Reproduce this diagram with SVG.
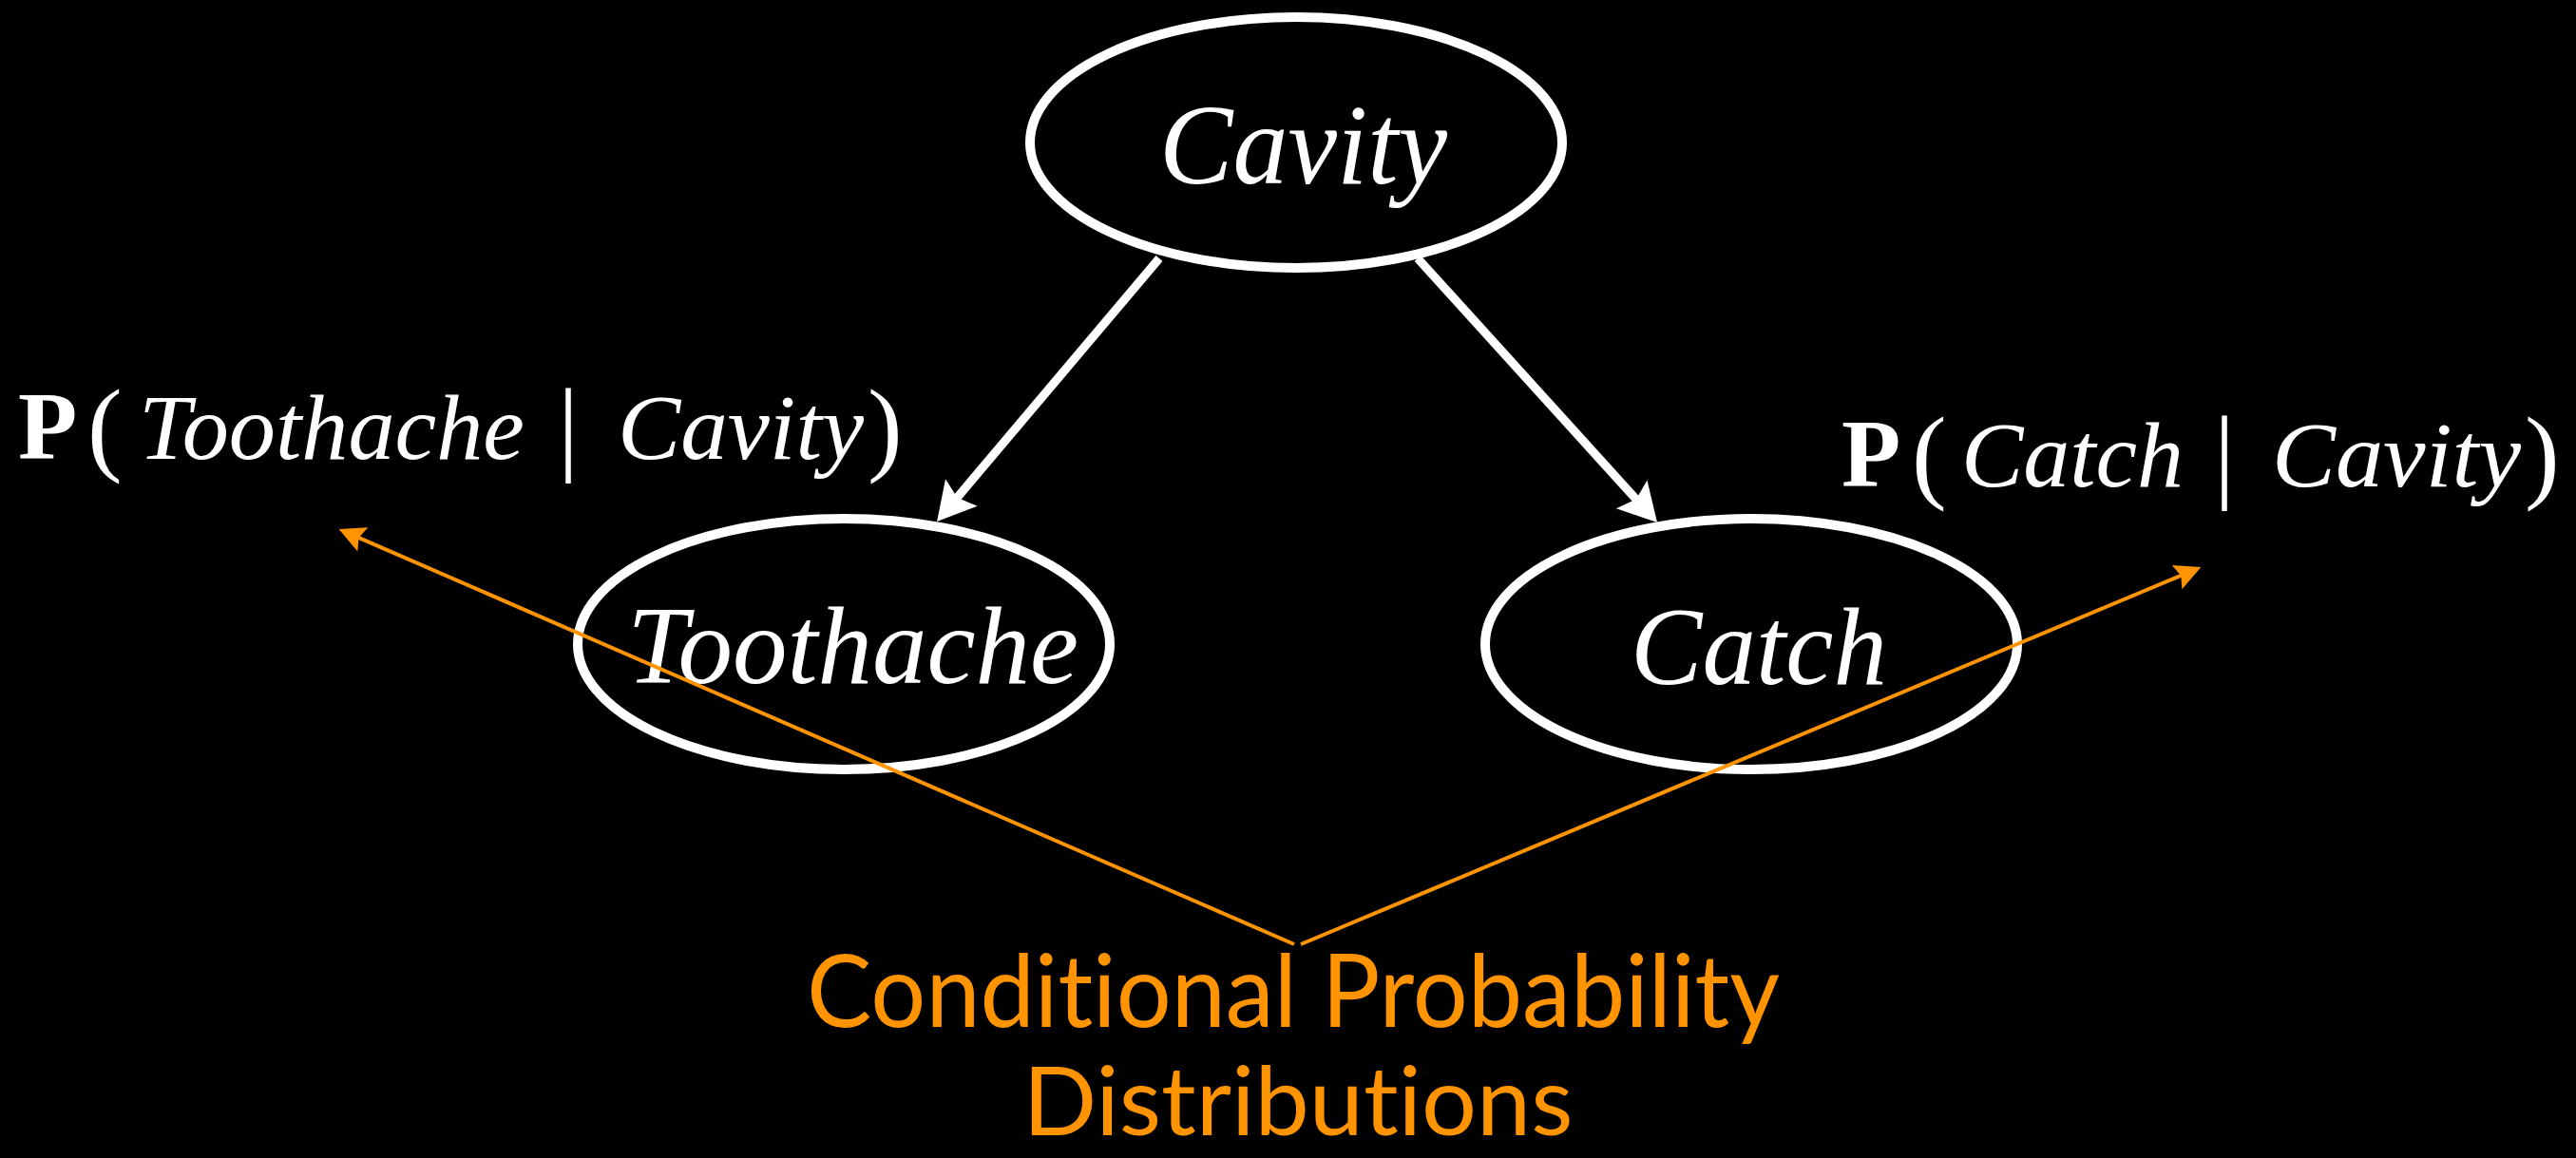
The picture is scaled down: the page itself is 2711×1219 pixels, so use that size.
<svg xmlns="http://www.w3.org/2000/svg" width="2711" height="1219" viewBox="0 0 2711 1219">
<style>
.node { fill: #000; stroke: #fff; stroke-width: 10; }
.lbl { font-family: "Liberation Serif", "Times New Roman", serif; font-style: italic; fill: #fff; }
.up { font-family: "Liberation Serif", "Times New Roman", serif; font-style: normal; fill: #fff; }
.edge { stroke: #fff; stroke-width: 9; fill: none; }
.cpd { stroke: #FF9300; stroke-width: 4; fill: none; }
.orange { font-family: Lato, "Open Sans", sans-serif; fill: #FF9300; font-variant-ligatures: none; }
</style>
<defs>
<marker id="wh" markerUnits="userSpaceOnUse" markerWidth="80" markerHeight="60" refX="0" refY="0" orient="auto" overflow="visible" viewBox="-20 -30 60 60">
<path d="M30,0 L-10,-22 L-3,0 L-10,22 Z" fill="#fff"/>
</marker>
<marker id="oh" markerUnits="userSpaceOnUse" markerWidth="40" markerHeight="40" refX="0" refY="0" orient="auto" overflow="visible" viewBox="-10 -15 35 30">
<path d="M18,0 L-6,-12 L-2,0 L-6,12 Z" fill="#FF9300"/>
</marker>
</defs>
<rect width="2711" height="1219" fill="#000"/>

<g id="connectors">
<line class="edge" x1="1220" y1="272" x2="1005.4" y2="526.1" marker-end="url(#wh)"/>
<line class="edge" x1="1492" y1="272" x2="1723.9" y2="527.8" marker-end="url(#wh)"/>
</g>

<g id="node-cavity">
<ellipse class="node" cx="1364" cy="150" rx="280" ry="132"/>
<text class="lbl" x="1220" y="193" font-size="120" textLength="303" lengthAdjust="spacingAndGlyphs">Cavity</text>
</g>
<g id="node-toothache">
<ellipse class="node" cx="888" cy="678" rx="280" ry="132"/>
<text class="lbl" x="660" y="719" font-size="117" textLength="475" lengthAdjust="spacingAndGlyphs">Toothache</text>
</g>
<g id="node-catch">
<ellipse class="node" cx="1843" cy="678" rx="280" ry="132"/>
<text class="lbl" x="1716" y="720" font-size="117" textLength="270" lengthAdjust="spacingAndGlyphs">Catch</text>
</g>

<g id="cpd-toothache">
<text class="up" x="19" y="483" font-size="102" font-weight="bold">P</text>
<text class="up" x="92" y="486" font-size="110">(</text>
<text class="lbl" x="146" y="483" font-size="98" textLength="406" lengthAdjust="spacingAndGlyphs">Toothache</text>
<text class="up" x="598" y="486" font-size="110" text-anchor="middle">|</text>
<text class="lbl" x="650" y="483" font-size="98" textLength="259" lengthAdjust="spacingAndGlyphs">Cavity</text>
<text class="up" x="913" y="486" font-size="110">)</text>
</g>
<g id="cpd-catch">
<text class="up" x="1938" y="512" font-size="102" font-weight="bold">P</text>
<text class="up" x="2012" y="515" font-size="110">(</text>
<text class="lbl" x="2064" y="512" font-size="98" textLength="234" lengthAdjust="spacingAndGlyphs">Catch</text>
<text class="up" x="2341" y="515" font-size="110" text-anchor="middle">|</text>
<text class="lbl" x="2391" y="512" font-size="98" textLength="262" lengthAdjust="spacingAndGlyphs">Cavity</text>
<text class="up" x="2657" y="515" font-size="110">)</text>
</g>

<g id="cpd-connectors">
<line class="cpd" x1="1362" y1="994" x2="375.5" y2="565.2" marker-end="url(#oh)"/>
<line class="cpd" x1="1369" y1="994" x2="2297.4" y2="605" marker-end="url(#oh)"/>
</g>

<g id="cpd-caption">
<text class="orange" x="1361" y="1081" font-size="106" text-anchor="middle" textLength="1024" lengthAdjust="spacingAndGlyphs">Conditional Probability</text>
<text class="orange" x="1366" y="1195" font-size="100" text-anchor="middle" textLength="579" lengthAdjust="spacingAndGlyphs">Distributions</text>
</g>
</svg>
